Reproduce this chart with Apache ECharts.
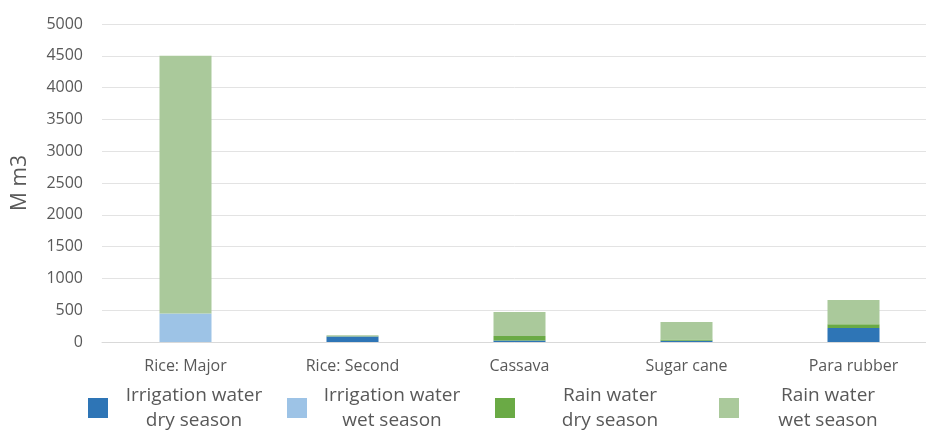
<!DOCTYPE html>
<html><head><meta charset="utf-8">
<script src="https://cdn.jsdelivr.net/npm/echarts@6/dist/echarts.min.js"></script>
<style>html,body{margin:0;padding:0;background:#fff}#c{width:926px;height:430px}</style>
</head><body><div id="c"></div>
<script>
const categories = ['Rice: Major', 'Rice: Second', 'Cassava', 'Sugar cane', 'Para rubber'];
const irrigationDry = [0, 85, 25, 20, 220];
const irrigationWet = [450, 0, 0, 0, 0];
const rainDry = [0, 5, 70, 20, 60];
const rainWet = [4050, 15, 375, 275, 380];
const yTicks = [0, 500, 1000, 1500, 2000, 2500, 3000, 3500, 4000, 4500, 5000];
const seriesNames = ['Irrigation water\ndry season', 'Irrigation water\nwet season', 'Rain water\ndry season', 'Rain water\nwet season'];
const colors = ['#2E75B6', '#9DC3E6', '#6AAA45', '#AAC99B'];
const dataSets = [irrigationDry, irrigationWet, rainDry, rainWet];

const legendPos = [
  {left: 88, w: 162},
  {left: 287, w: 160},
  {left: 495, w: 180},
  {left: 719, w: 168}
];

const chart = echarts.init(document.getElementById('c'));
chart.setOption({
  animation: false,
  color: colors,
  grid: {left: 102, width: 835, top: 24, bottom: 88, containLabel: false, outerBoundsMode: 'none'},
  legend: legendPos.map((p, i) => ({
    data: [seriesNames[i]],
    left: p.left,
    top: 386,
    padding: 0,
    itemWidth: 20,
    itemHeight: 20,
    itemGap: 5,
    icon: 'rect',
    selectedMode: false,
    formatter: n => n.split('\n').map(s => '{a|' + s + '}').join('\n'),
    textStyle: {
      rich: {a: {width: p.w, align: 'center', fontSize: 19, lineHeight: 25, color: '#595959', fontFamily: 'Open Sans'}}
    }
  })),
  xAxis: {
    type: 'category',
    data: categories,
    axisTick: {show: false},
    axisLine: {lineStyle: {color: '#d9d9d9'}},
    axisLabel: {color: '#595959', fontSize: 16, margin: 16, fontFamily: 'Open Sans'}
  },
  yAxis: {
    type: 'value',
    min: yTicks[0],
    max: yTicks[yTicks.length - 1],
    interval: 500,
    name: 'M m3',
    nameLocation: 'middle',
    nameRotate: 90,
    nameGap: 71,
    nameTextStyle: {color: '#595959', fontSize: 21, fontFamily: 'Open Sans'},
    axisLabel: {color: '#595959', fontSize: 16, margin: 19, fontFamily: 'Open Sans', formatter: v => String(v)},
    splitLine: {lineStyle: {color: '#e3e3e3', width: 1}},
    axisLine: {show: false},
    axisTick: {show: false}
  },
  series: dataSets.map((d, i) => ({
    name: seriesNames[i],
    type: 'bar',
    stack: 'total',
    barWidth: 52,
    data: d,
    itemStyle: {color: colors[i]}
  }))
});
</script></body></html>
